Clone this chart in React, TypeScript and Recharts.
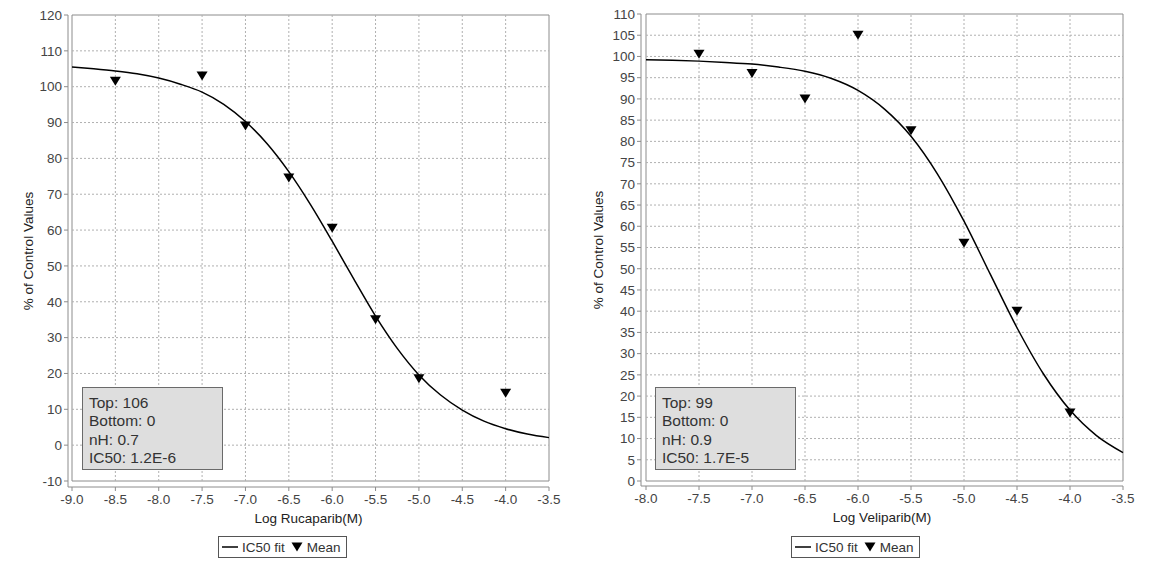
import { ComposedChart, Line, Scatter, XAxis, YAxis, ReferenceLine, ReferenceArea } from 'recharts';

const FONT = '"Liberation Sans", Arial, sans-serif';

// Rucaparib panel
const rucaXTicks = [-9.0, -8.5, -8.0, -7.5, -7.0, -6.5, -6.0, -5.5, -5.0, -4.5, -4.0, -3.5];
const rucaYTicks = [-10, 0, 10, 20, 30, 40, 50, 60, 70, 80, 90, 100, 110, 120];
const rucaMeanX = [-8.5, -7.5, -7.0, -6.5, -6.0, -5.5, -5.0, -4.0];
const rucaMeanY = [101.5, 103, 89, 74.5, 60.5, 35, 18.5, 14.5];
const rucaFitX = [-9.0, -8.75, -8.5, -8.25, -8.0, -7.75, -7.5, -7.25, -7.0, -6.75, -6.5, -6.25, -6.0, -5.75, -5.5, -5.25, -5.0, -4.75, -4.5, -4.25, -4.0, -3.75, -3.5];
const rucaFitY = [105.5, 105.0, 104.4, 103.6, 102.4, 100.7, 98.5, 95.1, 90.3, 84.1, 76.3, 67.1, 56.9, 46.3, 36.0, 27.0, 19.6, 14.0, 9.8, 6.7, 4.6, 3.1, 2.1];
const rucaStats = ['Top: 106', 'Bottom: 0', 'nH: 0.7', 'IC50: 1.2E-6'];

// Veliparib panel
const veliXTicks = [-8.0, -7.5, -7.0, -6.5, -6.0, -5.5, -5.0, -4.5, -4.0, -3.5];
const veliYTicks = [0, 5, 10, 15, 20, 25, 30, 35, 40, 45, 50, 55, 60, 65, 70, 75, 80, 85, 90, 95, 100, 105, 110];
const veliMeanX = [-7.5, -7.0, -6.5, -6.0, -5.5, -5.0, -4.5, -4.0];
const veliMeanY = [100.5, 96, 90, 105, 82.5, 56, 40, 16];
const veliFitX = [-8.0, -7.75, -7.5, -7.25, -7.0, -6.75, -6.5, -6.25, -6.0, -5.75, -5.5, -5.25, -5.0, -4.75, -4.5, -4.25, -4.0, -3.75, -3.5];
const veliFitY = [99.2, 99.1, 98.9, 98.6, 98.2, 97.5, 96.5, 94.8, 92.0, 87.6, 81.2, 72.3, 61.2, 48.6, 36.1, 25.2, 16.7, 10.7, 6.7];
const veliStats = ['Top: 99', 'Bottom: 0', 'nH: 0.9', 'IC50: 1.7E-5'];

const Triangle = (props: any) => {
  const { cx, cy } = props;
  if (cx == null || cy == null) return null;
  return <path d={`M${cx - 5.5},${cy - 4.5}L${cx + 5.5},${cy - 4.5}L${cx},${cy + 4.5}Z`} fill="#000" />;
};

interface PanelProps {
  left: number;
  width: number;
  yAxisWidth: number;
  marginTop: number;
  marginRight: number;
  padLeft: number;
  padBottom: number;
  xAxisHeight: number;
  yTitleOffset: number;
  xTicks: number[];
  yTicks: number[];
  fitX: number[];
  fitY: number[];
  meanX: number[];
  meanY: number[];
  xTitle: string;
  stats: string[];
  statsLeft: number;
  legendLeft: number;
}

function Panel(p: PanelProps) {
  const fit = p.fitX.map((x, i) => ({ x, y: p.fitY[i] }));
  const mean = p.meanX.map((x, i) => ({ x, y: p.meanY[i] }));
  const x0 = p.xTicks[0];
  const x1 = p.xTicks[p.xTicks.length - 1];
  const y0 = p.yTicks[0];
  const y1 = p.yTicks[p.yTicks.length - 1];
  const tickStyle = { fill: '#444', fontSize: 13.5, fontFamily: FONT };

  return (
    <div style={{ position: 'absolute', left: p.left, top: 0, width: p.width, height: 572 }}>
      <ComposedChart width={p.width} height={572} margin={{ top: p.marginTop, right: p.marginRight, bottom: 0, left: 0 }}>
        {p.yTicks.slice(1, -1).map((v) => (
          <ReferenceLine key={`h${v}`} segment={[{ x: x0, y: v }, { x: x1, y: v }]} stroke="#b0b0b0" strokeDasharray="2 2" />
        ))}
        {p.xTicks.slice(1, -1).map((v) => (
          <ReferenceLine key={`v${v}`} segment={[{ x: v, y: y0 }, { x: v, y: y1 }]} stroke="#b0b0b0" strokeDasharray="2 2" />
        ))}
        <ReferenceArea x1={x0} x2={x1} y1={y0} y2={y1} fill="none" fillOpacity={0} stroke="#8c8c8c" strokeWidth={1} />
        <XAxis
          type="number"
          dataKey="x"
          domain={[x0, x1]}
          ticks={p.xTicks}
          interval={0}
          padding={{ left: p.padLeft, right: 0 }}
          height={p.xAxisHeight}
          tickSize={4}
          tickMargin={3}
          stroke="#8c8c8c"
          tick={tickStyle}
          tickFormatter={(v: number) => v.toFixed(1)}
          label={{ value: p.xTitle, position: 'insideTop', offset: 26, fill: '#222', fontSize: 13.5, fontFamily: FONT }}
        />
        <YAxis
          type="number"
          domain={[y0, y1]}
          ticks={p.yTicks}
          interval={0}
          padding={{ top: 0, bottom: p.padBottom }}
          width={p.yAxisWidth}
          tickSize={4}
          tickMargin={2}
          stroke="#8c8c8c"
          tick={tickStyle}
          label={{ value: '% of Control Values', angle: -90, position: 'insideLeft', offset: p.yTitleOffset, textAnchor: 'middle', fill: '#222', fontSize: 13.5, fontFamily: FONT }}
        />
        <Line data={fit} type="monotone" dataKey="y" stroke="#000" strokeWidth={1.5} dot={false} isAnimationActive={false} />
        <Scatter data={mean} dataKey="y" shape={<Triangle />} isAnimationActive={false} />
      </ComposedChart>

      <div
        style={{
          position: 'absolute',
          left: p.statsLeft,
          top: 387,
          width: 141,
          height: 83,
          background: '#dedede',
          border: '1px solid #6a6a6a',
          fontFamily: FONT,
          fontSize: 15.5,
          color: '#333',
          lineHeight: '18.3px',
          padding: '6px 0 0 6px',
          boxSizing: 'border-box',
        }}
      >
        {p.stats.map((s) => (
          <div key={s}>{s}</div>
        ))}
      </div>

      <div
        style={{
          position: 'absolute',
          left: p.legendLeft,
          top: 536,
          height: 20,
          border: '1px solid #555',
          display: 'flex',
          alignItems: 'center',
          padding: '0 5px 0 3px',
          fontFamily: FONT,
          fontSize: 13.5,
          color: '#333',
          background: '#fff',
        }}
      >
        <svg width={17} height={10} style={{ marginRight: 3 }}>
          <line x1={0} y1={5} x2={16} y2={5} stroke="#000" strokeWidth={1.5} />
        </svg>
        <span>IC50 fit</span>
        <svg width={12} height={10} style={{ margin: '0 4px 0 6px' }}>
          <path d="M0.5,0.5L11.5,0.5L6,9.5Z" fill="#000" />
        </svg>
        <span>Mean</span>
      </div>
    </div>
  );
}

export default function App() {
  return (
    <div style={{ position: 'absolute', left: 0, top: 0, width: 1150, height: 572, background: '#fff', fontFamily: FONT }}>
      <Panel
        left={0}
        width={575}
        yAxisWidth={68}
        marginTop={15}
        marginRight={26}
        padLeft={4}
        padBottom={6}
        xAxisHeight={85}
        yTitleOffset={28}
        xTicks={rucaXTicks}
        yTicks={rucaYTicks}
        fitX={rucaFitX}
        fitY={rucaFitY}
        meanX={rucaMeanX}
        meanY={rucaMeanY}
        xTitle="Log Rucaparib(M)"
        stats={rucaStats}
        statsLeft={82}
        legendLeft={218}
      />
      <Panel
        left={575}
        width={575}
        yAxisWidth={66}
        marginTop={14}
        marginRight={27}
        padLeft={5}
        padBottom={5}
        xAxisHeight={86}
        yTitleOffset={23}
        xTicks={veliXTicks}
        yTicks={veliYTicks}
        fitX={veliFitX}
        fitY={veliFitY}
        meanX={veliMeanX}
        meanY={veliMeanY}
        xTitle="Log Veliparib(M)"
        stats={veliStats}
        statsLeft={80}
        legendLeft={216}
      />
    </div>
  );
}
